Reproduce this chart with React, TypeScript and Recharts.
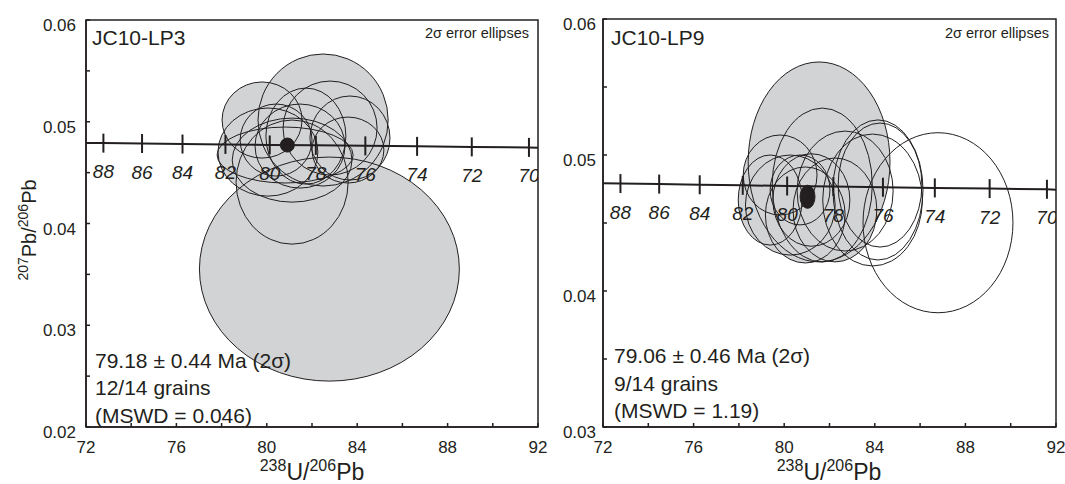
import React from 'react';
import { ComposedChart, XAxis, YAxis, Scatter, ReferenceArea } from 'recharts';

const INK = '#231f20';
const GREY = '#d1d3d4';
const FONT = '"Liberation Sans", Arial, Helvetica, sans-serif';

// x axis (238U/206Pb), shared by both panels
const xTicks = [72, 74, 76, 78, 80, 82, 84, 86, 88, 90, 92];
const xTickLabels = [72, 76, 80, 84, 88, 92];

// concordia curve with age ticks (Ma)
const concordiaAges = [88, 86, 84, 82, 80, 78, 76, 74, 72, 70];
const concordiaU = [72.77, 74.48, 76.27, 78.17, 80.13, 82.17, 84.36, 86.65, 89.07, 91.6];
const concordiaPb = [0.0479, 0.04786, 0.04781, 0.04777, 0.04772, 0.04768, 0.04763, 0.04758, 0.04753, 0.04748];
const concordiaEndsU = [72, 92];
const concordiaEndsPb = [0.04792, 0.04745];

// JC10-LP3 error ellipses (centre and half-axes)
const lp3X = [82.49, 79.79, 82.8, 83.59, 80.81, 81.12, 82.77, 80.41, 81.47, 80.05, 81.73, 81.12, 83.68];
const lp3Y = [0.05017, 0.05017, 0.04938, 0.04722, 0.04673, 0.04407, 0.03552, 0.0482, 0.04761, 0.04702, 0.04859, 0.04623, 0.0484];
const lp3Rx = [2.88, 1.77, 2.08, 1.59, 3.01, 2.48, 5.75, 1.59, 1.99, 2.21, 1.77, 2.65, 1.77];
const lp3Ry = [0.00649, 0.00374, 0.00462, 0.00324, 0.00275, 0.0061, 0.01101, 0.00354, 0.00413, 0.00433, 0.00472, 0.00413, 0.00413];
const lp3Mean = { x: 80.91, y: 0.04771, rx: 0.31, ry: 0.00069 };

// JC10-LP9 accepted (grey) and rejected (open) ellipses
const lp9X = [81.54, 81.68, 79.82, 80.27, 80.93, 79.38, 82.24, 80.7, 81.2];
const lp9Y = [0.04949, 0.04779, 0.04853, 0.04632, 0.04559, 0.04669, 0.04596, 0.04743, 0.04669];
const lp9Rx = [3.13, 2.21, 1.63, 1.98, 1.76, 1.41, 1.85, 1.32, 1.7];
const lp9Ry = [0.00735, 0.00566, 0.00294, 0.00368, 0.00353, 0.00331, 0.00382, 0.00257, 0.0034];
const lp9OpenX = [86.79, 84.23, 84.14, 83.9, 82.69];
const lp9OpenY = [0.04502, 0.04779, 0.04743, 0.04669, 0.04735];
const lp9OpenRx = [3.31, 1.85, 1.99, 2.2, 2.12];
const lp9OpenRy = [0.00662, 0.00456, 0.00515, 0.00485, 0.00441];
const lp9Mean = { x: 81.03, y: 0.04693, rx: 0.33, ry: 0.00085 };

type Box = { x1: number; x2: number; y1: number; y2: number };

const toBoxes = (xs: number[], ys: number[], rxs: number[], rys: number[]): Box[] =>
  xs.map((x, i) => ({ x1: x - rxs[i], x2: x + rxs[i], y1: ys[i] - rys[i], y2: ys[i] + rys[i] }));

const concordiaData = [
  { x: concordiaEndsU[0], y: concordiaEndsPb[0] },
  ...concordiaAges.map((age, i) => ({ x: concordiaU[i], y: concordiaPb[i], age })),
  { x: concordiaEndsU[1], y: concordiaEndsPb[1] },
];

const ellipse = (fill: string, stroke: string) => (p: any) => (
  <ellipse
    cx={p.x + p.width / 2}
    cy={p.y + p.height / 2}
    rx={Math.abs(p.width / 2)}
    ry={Math.abs(p.height / 2)}
    fill={fill}
    stroke={stroke}
    strokeWidth={1}
  />
);

const ConcordiaTick = (props: any) => {
  const { cx, cy, payload } = props;
  if (payload.age == null) return <g />;
  return (
    <g>
      <line x1={cx} x2={cx} y1={cy - 9.5} y2={cy + 9.5} stroke={INK} strokeWidth={2} />
      <text x={cx} y={cy + 35} textAnchor="middle" fontStyle="italic" fontSize={19} fill={INK} fontFamily={FONT}>
        {payload.age}
      </text>
    </g>
  );
};

const XTick = (props: any) => {
  const { x, y, payload } = props;
  return (
    <g>
      <line x1={x} x2={x} y1={y} y2={y - 4} stroke={INK} strokeWidth={1.5} />
      {xTickLabels.includes(payload.value) && (
        <text x={x} y={y + 26} textAnchor="middle" fontSize={17} fill={INK} fontFamily={FONT}>
          {payload.value}
        </text>
      )}
    </g>
  );
};

const makeYTick = (labels: number[], gap: number) => (props: any) => {
  const { x, y, payload } = props;
  const show = labels.some((v) => Math.abs(v - payload.value) < 1e-9);
  return (
    <g>
      <line x1={x} x2={x + 4} y1={y} y2={y} stroke={INK} strokeWidth={1.5} />
      {show && (
        <text x={x - gap} y={y + 11} textAnchor="end" fontSize={17} fill={INK} fontFamily={FONT}>
          {payload.value.toFixed(2)}
        </text>
      )}
    </g>
  );
};

type PanelProps = {
  width: number;
  top: number;
  right: number;
  yWidth: number;
  yDomain: [number, number];
  yTicks: number[];
  yLabels: number[];
  labelGap: number;
  filled: Box[];
  open: Box[];
  mean: { x: number; y: number; rx: number; ry: number };
};

function Panel(p: PanelProps) {
  const YTick = makeYTick(p.yLabels, p.labelGap);
  return (
    <ComposedChart width={p.width} height={484} margin={{ top: p.top, right: p.right, bottom: 0, left: 0 }}>
      <XAxis
        type="number"
        dataKey="x"
        domain={[72, 92]}
        ticks={xTicks}
        interval={0}
        allowDataOverflow
        height={57}
        tickSize={0}
        tickMargin={0}
        tickLine={false}
        axisLine={{ stroke: INK, strokeWidth: 1.5 }}
        tick={XTick}
      />
      <YAxis
        type="number"
        dataKey="y"
        domain={p.yDomain}
        ticks={p.yTicks}
        interval={0}
        allowDataOverflow
        width={p.yWidth}
        tickSize={0}
        tickMargin={0}
        tickLine={false}
        axisLine={{ stroke: INK, strokeWidth: 1.5 }}
        tick={YTick}
      />
      {p.filled.map((b, i) => (
        <ReferenceArea key={'f' + i} {...b} ifOverflow="hidden" shape={ellipse(GREY, 'none')} />
      ))}
      {p.filled.map((b, i) => (
        <ReferenceArea key={'o' + i} {...b} ifOverflow="hidden" shape={ellipse('none', INK)} />
      ))}
      {p.open.map((b, i) => (
        <ReferenceArea key={'r' + i} {...b} ifOverflow="hidden" shape={ellipse('none', INK)} />
      ))}
      <ReferenceArea
        x1={72}
        x2={92}
        y1={p.yDomain[0]}
        y2={p.yDomain[1]}
        fill="none"
        fillOpacity={0}
        stroke={INK}
        strokeWidth={1.5}
        ifOverflow="visible"
      />
      <Scatter
        data={concordiaData}
        line={{ stroke: INK, strokeWidth: 2 }}
        shape={ConcordiaTick}
        isAnimationActive={false}
      />
      <ReferenceArea
        x1={p.mean.x - p.mean.rx}
        x2={p.mean.x + p.mean.rx}
        y1={p.mean.y - p.mean.ry}
        y2={p.mean.y + p.mean.ry}
        ifOverflow="hidden"
        shape={ellipse(INK, INK)}
      />
    </ComposedChart>
  );
}

const txt = { fill: INK, fontFamily: FONT };

function AxisTitleX({ x }: { x: number }) {
  return (
    <text x={x} y={480} textAnchor="middle" {...txt} fontSize={23}>
      <tspan fontSize={16} dy={-9}>238</tspan>
      <tspan dy={9}>U/</tspan>
      <tspan fontSize={16} dy={-9}>206</tspan>
      <tspan dy={9}>Pb</tspan>
    </text>
  );
}

export default function App() {
  const lp3Boxes = toBoxes(lp3X, lp3Y, lp3Rx, lp3Ry);
  const lp9Boxes = toBoxes(lp9X, lp9Y, lp9Rx, lp9Ry);
  const lp9Open = toBoxes(lp9OpenX, lp9OpenY, lp9OpenRx, lp9OpenRy);
  return (
    <div style={{ position: 'absolute', left: 0, top: 0, width: 1065, height: 484, background: '#fff' }}>
      <div style={{ position: 'absolute', left: 0, top: 0, width: 560, height: 484 }}>
        <Panel
          width={560}
          top={20}
          right={22}
          yWidth={86}
          yDomain={[0.02, 0.06]}
          yTicks={[0.02, 0.025, 0.03, 0.035, 0.04, 0.045, 0.05, 0.055, 0.06]}
          yLabels={[0.02, 0.03, 0.04, 0.05, 0.06]}
          labelGap={10}
          filled={lp3Boxes}
          open={[]}
          mean={lp3Mean}
        />
        <svg width={560} height={484} style={{ position: 'absolute', left: 0, top: 0, pointerEvents: 'none' }}>
          <text x={92} y={45} {...txt} fontSize={21}>JC10-LP3</text>
          <text x={529} y={38} textAnchor="end" {...txt} fontSize={14.5}>2σ error ellipses</text>
          <text x={95} y={368} {...txt} fontSize={21}>79.18 ± 0.44 Ma (2σ)</text>
          <text x={95} y={395} {...txt} fontSize={21}>12/14 grains</text>
          <text x={95} y={423} {...txt} fontSize={21}>(MSWD = 0.046)</text>
          <text transform="translate(36,230) rotate(-90)" textAnchor="middle" {...txt} fontSize={20}>
            <tspan fontSize={14} dy={-8}>207</tspan>
            <tspan dy={8}>Pb/</tspan>
            <tspan fontSize={14} dy={-8}>206</tspan>
            <tspan dy={8}>Pb</tspan>
          </text>
          <AxisTitleX x={312} />
        </svg>
      </div>
      <div style={{ position: 'absolute', left: 545, top: 0, width: 520, height: 484 }}>
        <Panel
          width={520}
          top={19}
          right={9}
          yWidth={58}
          yDomain={[0.03, 0.06]}
          yTicks={[0.03, 0.035, 0.04, 0.045, 0.05, 0.055, 0.06]}
          yLabels={[0.03, 0.04, 0.05, 0.06]}
          labelGap={7}
          filled={lp9Boxes}
          open={lp9Open}
          mean={lp9Mean}
        />
        <svg width={520} height={484} style={{ position: 'absolute', left: 0, top: 0, pointerEvents: 'none' }}>
          <text x={66} y={45} {...txt} fontSize={21}>JC10-LP9</text>
          <text x={504} y={38} textAnchor="end" {...txt} fontSize={14.5}>2σ error ellipses</text>
          <text x={69} y={363} {...txt} fontSize={21}>79.06 ± 0.46 Ma (2σ)</text>
          <text x={69} y={391} {...txt} fontSize={21}>9/14 grains</text>
          <text x={69} y={418} {...txt} fontSize={21}>(MSWD = 1.19)</text>
          <AxisTitleX x={284} />
        </svg>
      </div>
    </div>
  );
}
